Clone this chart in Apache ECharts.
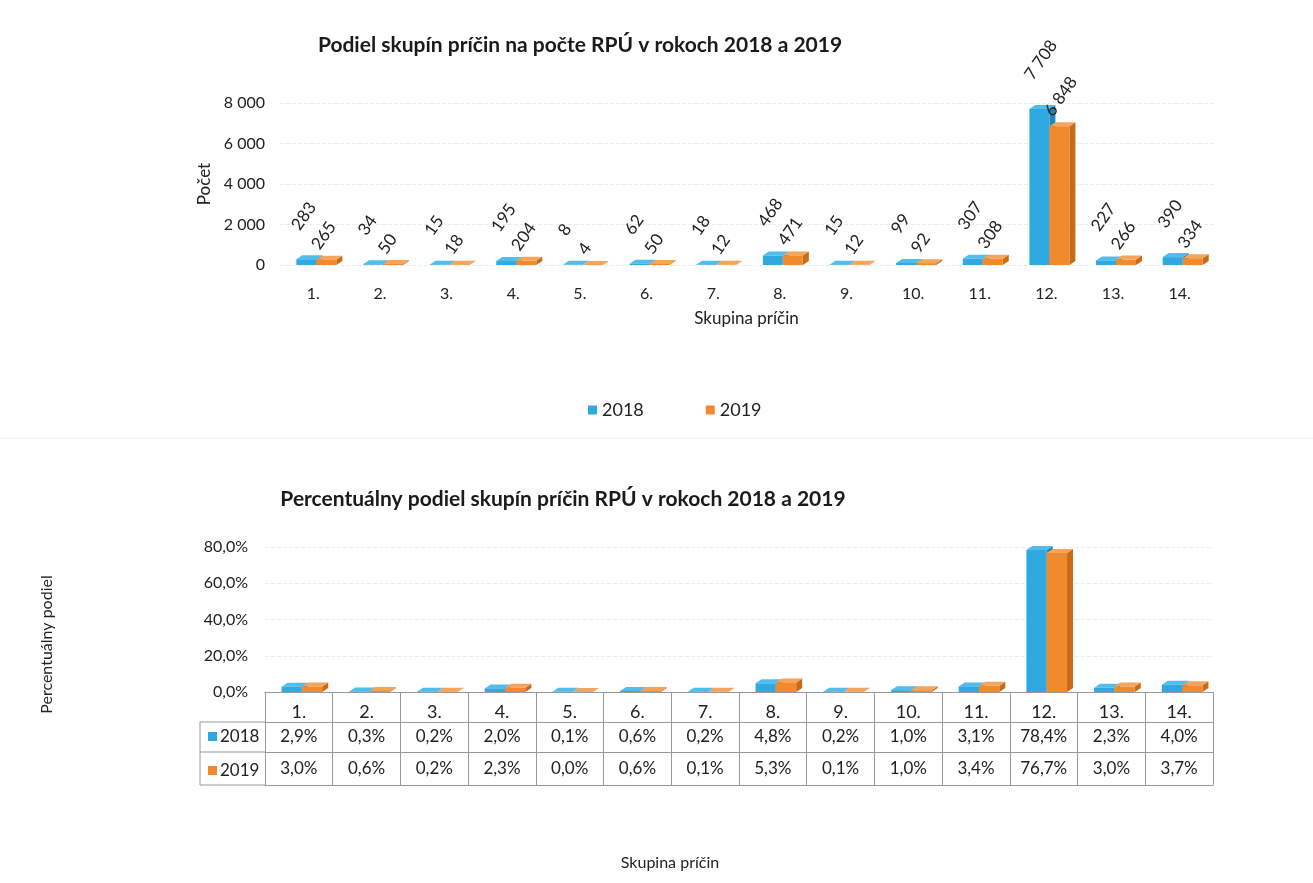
<!DOCTYPE html>
<html><head><meta charset="utf-8">
<script src="https://cdn.jsdelivr.net/npm/echarts@6/dist/echarts.min.js"></script>
<style>html,body{margin:0;padding:0;background:#fff}#c{width:1313px;height:883px}</style>
</head><body><div id="c"></div>
<script>
const categories = ['1.','2.','3.','4.','5.','6.','7.','8.','9.','10.','11.','12.','13.','14.'];
const seriesNames = ['2018','2019'];
const count2018 = [283,34,15,195,8,62,18,468,15,99,307,7708,227,390];
const count2019 = [265,50,18,204,4,50,12,471,12,92,308,6848,266,334];
const pct2018 = [2.9,0.3,0.2,2.0,0.1,0.6,0.2,4.8,0.2,1.0,3.1,78.4,2.3,4.0];
const pct2019 = [3.0,0.6,0.2,2.3,0.0,0.6,0.1,5.3,0.1,1.0,3.4,76.7,3.0,3.7];

const FONT = 'Lato, "Noto Sans", sans-serif';
const BLUE = '#2fa9e0', BLUE_SIDE = '#1f86b8', BLUE_TOP = '#52bdec';
const ORANGE = '#f08a2c', ORANGE_SIDE = '#c96a16', ORANGE_TOP = '#f6a45a';
const TXT = '#222';

const fmtThousands = v => String(v).replace(/\B(?=(\d{3})+(?!\d))/g, '\u00a0');
const fmtPct = v => v.toFixed(1).replace('.', ',') + '%';

function bar3d(side, col, sideCol, topCol, withLabel) {
  return function (params, api) {
    const ci = api.value(0), v = api.value(1);
    const base = api.coord([ci, 0]);
    const top = api.coord([ci, v]);
    const band = api.size([1, 0])[0];
    const w = band * 0.3;
    const cx = base[0] + 3;
    const x0 = side === 0 ? cx - w : cx;
    const d = 6, dy = 4;
    const yT = top[1], yB = base[1];
    const children = [
      {type: 'polygon', shape: {points: [[x0 + w, yT], [x0 + w + d, yT - dy], [x0 + w + d, yB - dy], [x0 + w, yB]]}, style: {fill: sideCol}},
      {type: 'polygon', shape: {points: [[x0, yT], [x0 + d, yT - dy], [x0 + w + d, yT - dy], [x0 + w, yT]]}, style: {fill: topCol}},
      {type: 'rect', shape: {x: x0, y: yT, width: w, height: yB - yT}, style: {fill: col}}
    ];
    if (withLabel) {
      const lx = x0 + w / 2 - 11;
      const ly = yT - (side === 0 ? 31 : 12);
      children.push({
        type: 'text', x: lx, y: ly, rotation: 55 * Math.PI / 180,
        style: {text: fmtThousands(v), fill: TXT, font: '17px ' + FONT, align: 'left', verticalAlign: 'middle'}
      });
    }
    return {type: 'group', children: children};
  };
}

const chart = echarts.init(document.getElementById('c'), null, {renderer: 'canvas'});

const option = {
  backgroundColor: '#fff',
  animation: false,
  textStyle: {fontFamily: FONT},
  title: [
    {text: 'Podiel skupín príčin na počte RPÚ v rokoch 2018 a 2019', left: 575, top: 30, textAlign: 'center',
     textStyle: {fontFamily: FONT, fontSize: 21, fontWeight: 'bold', color: '#1a1a1a'}},
    {text: 'Percentuálny podiel skupín príčin RPÚ v rokoch 2018 a 2019', left: 558, top: 484, textAlign: 'center',
     textStyle: {fontFamily: FONT, fontSize: 21, fontWeight: 'bold', color: '#1a1a1a'}},
    {text: 'Skupina príčin', left: 665, top: 850, textAlign: 'center',
     textStyle: {fontFamily: FONT, fontSize: 16, fontWeight: 'normal', color: TXT}}
  ],
  legend: [
    {data: seriesNames, left: 583, top: 396, itemGap: 62, itemWidth: 9, itemHeight: 9, icon: 'rect',
     textStyle: {fontFamily: FONT, fontSize: 18, color: TXT}, selectedMode: false},
    {data: seriesNames, orient: 'vertical', left: 203, top: 723, itemGap: 17, itemWidth: 9, itemHeight: 9, icon: 'rect',
     textStyle: {fontFamily: FONT, fontSize: 17, color: TXT, padding: [0, 0, 0, -2]}, selectedMode: false}
  ],
  grid: [
    {left: 280, right: 100, top: 103, bottom: 883 - 265},
    {left: 265, right: 100, top: 547, bottom: 883 - 692}
  ],
  xAxis: [
    {type: 'category', gridIndex: 0, data: categories, boundaryGap: true,
     axisLine: {show: false}, axisTick: {show: false},
     axisLabel: {margin: 21, fontSize: 16, color: TXT, fontFamily: FONT},
     name: 'Skupina príčin', nameLocation: 'middle', nameGap: 45,
     nameTextStyle: {fontSize: 17, color: TXT, fontFamily: FONT}},
    {type: 'category', gridIndex: 1, data: categories, boundaryGap: true, position: 'bottom', offset: 0,
     axisLine: {show: true, lineStyle: {color: '#9a9a9a'}},
     axisTick: {show: true, length: 93, alignWithLabel: false, lineStyle: {color: '#9a9a9a'}},
     axisLabel: {margin: 11, fontSize: 18, color: TXT, fontFamily: FONT}},
    {type: 'category', gridIndex: 1, data: pct2018.map(fmtPct), boundaryGap: true, position: 'bottom', offset: 30,
     axisLine: {show: true, lineStyle: {color: '#9a9a9a'}}, axisTick: {show: false},
     axisLabel: {margin: 6, fontSize: 17, color: TXT, fontFamily: FONT, interval: 0}},
    {type: 'category', gridIndex: 1, data: pct2019.map(fmtPct), boundaryGap: true, position: 'bottom', offset: 60,
     axisLine: {show: true, lineStyle: {color: '#9a9a9a'}}, axisTick: {show: false},
     axisLabel: {margin: 8, fontSize: 17, color: TXT, fontFamily: FONT, interval: 0}},
    {type: 'category', gridIndex: 1, data: categories, boundaryGap: true, position: 'bottom', offset: 93,
     axisLine: {show: true, lineStyle: {color: '#9a9a9a'}}, axisTick: {show: false}, axisLabel: {show: false}}
  ],
  yAxis: [
    {type: 'value', gridIndex: 0, min: 0, max: 8000, interval: 2000,
     axisLine: {show: false}, axisTick: {show: false},
     axisLabel: {margin: 15, fontSize: 16, color: TXT, fontFamily: FONT, formatter: fmtThousands},
     splitLine: {lineStyle: {color: '#ededed', type: 'dashed'}},
     name: 'Počet', nameLocation: 'middle', nameGap: 64,
     nameTextStyle: {fontSize: 17, color: TXT, fontFamily: FONT}},
    {type: 'value', gridIndex: 1, min: 0, max: 80, interval: 20,
     axisLine: {show: false}, axisTick: {show: false},
     axisLabel: {margin: 17, fontSize: 16, color: TXT, fontFamily: FONT, formatter: fmtPct},
     splitLine: {lineStyle: {color: '#ededed', type: 'dashed'}},
     name: 'Percentuálny podiel', nameLocation: 'middle', nameGap: 210,
     nameTextStyle: {fontSize: 16, color: TXT, fontFamily: FONT, padding: [0, 50, 0, 0]}}
  ],
  graphic: [
    {type: 'line', shape: {x1: 200, y1: 722, x2: 265, y2: 722}, style: {stroke: '#9a9a9a', lineWidth: 1}},
    {type: 'line', shape: {x1: 200, y1: 752, x2: 265, y2: 752}, style: {stroke: '#9a9a9a', lineWidth: 1}},
    {type: 'line', shape: {x1: 200, y1: 785, x2: 265, y2: 785}, style: {stroke: '#9a9a9a', lineWidth: 1}},
    {type: 'line', shape: {x1: 200, y1: 722, x2: 200, y2: 785}, style: {stroke: '#9a9a9a', lineWidth: 1}},
    {type: 'line', shape: {x1: 0, y1: 438, x2: 1313, y2: 438}, style: {stroke: '#f0f0f0', lineWidth: 1}}
  ],
  series: [
    {name: '2018', type: 'custom', xAxisIndex: 0, yAxisIndex: 0, itemStyle: {color: BLUE},
     encode: {x: 0, y: 1}, data: count2018.map((v, i) => [i, v]),
     renderItem: bar3d(0, BLUE, BLUE_SIDE, BLUE_TOP, true)},
    {name: '2019', type: 'custom', xAxisIndex: 0, yAxisIndex: 0, itemStyle: {color: ORANGE},
     encode: {x: 0, y: 1}, data: count2019.map((v, i) => [i, v]),
     renderItem: bar3d(1, ORANGE, ORANGE_SIDE, ORANGE_TOP, true)},
    {name: '2018', type: 'custom', xAxisIndex: 1, yAxisIndex: 1, itemStyle: {color: BLUE},
     encode: {x: 0, y: 1}, data: pct2018.map((v, i) => [i, v]),
     renderItem: bar3d(0, BLUE, BLUE_SIDE, BLUE_TOP, false)},
    {name: '2019', type: 'custom', xAxisIndex: 1, yAxisIndex: 1, itemStyle: {color: ORANGE},
     encode: {x: 0, y: 1}, data: pct2019.map((v, i) => [i, v]),
     renderItem: bar3d(1, ORANGE, ORANGE_SIDE, ORANGE_TOP, false)}
  ]
};
chart.setOption(option);
</script></body></html>
